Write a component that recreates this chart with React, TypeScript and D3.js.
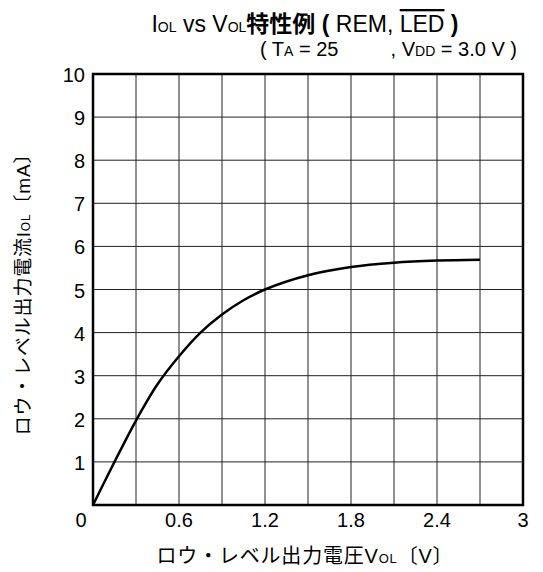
import { line, curveCatmullRom, scaleLinear, range } from "d3";

const xTicks = [0, 0.6, 1.2, 1.8, 2.4, 3];
const yTicks = [1, 2, 3, 4, 5, 6, 7, 8, 9, 10];
const vol = [0, 0.15, 0.3, 0.45, 0.6, 0.75, 0.9, 1.05, 1.2, 1.5, 1.8, 2.1, 2.4, 2.7];
const iol = [0, 1, 1.96, 2.8, 3.45, 4.0, 4.42, 4.75, 5.0, 5.33, 5.52, 5.62, 5.67, 5.69];

const W = 543;
const H = 572;
const left = 93;
const right = 523;
const top = 74;
const bottom = 505;
const font = "'Liberation Sans', Arial, sans-serif";
const jp = "'Noto Sans CJK JP', sans-serif";

export default function App() {
  const x = scaleLinear().domain([0, 3]).range([left, right]);
  const y = scaleLinear().domain([0, 10]).range([bottom, top]);
  const pts = vol.map((v, i) => [v, iol[i]] as [number, number]);
  const path = line<[number, number]>()
    .x((d) => x(d[0]))
    .y((d) => y(d[1]))
    .curve(curveCatmullRom)(pts);

  return (
    <svg width={W} height={H} style={{ position: "absolute", left: 0, top: 0 }}>
      <rect width={W} height={H} fill="#fff" />
      {/* grid */}
      {range(1, 10).map((i) => (
        <line key={"v" + i} x1={x(i * 0.3)} x2={x(i * 0.3)} y1={top} y2={bottom} stroke="#222" strokeWidth={1} />
      ))}
      {yTicks.slice(0, -1).map((t) => (
        <line key={"h" + t} x1={left} x2={right} y1={y(t)} y2={y(t)} stroke="#222" strokeWidth={1} />
      ))}
      <rect x={left} y={top} width={right - left} height={bottom - top} fill="none" stroke="#000" strokeWidth={2.5} />
      <path d={path ?? ""} fill="none" stroke="#000" strokeWidth={2.5} />

      {/* tick labels */}
      {yTicks.map((t) => (
        <text key={"yl" + t} x={85} y={y(t) + 8} textAnchor="end" fontFamily={font} fontSize={20}>
          {t}
        </text>
      ))}
      {xTicks.map((t) => (
        <text
          key={"xl" + t}
          x={t === 0 ? x(t) - 12 : x(t)}
          y={bottom + 22}
          textAnchor="middle"
          fontFamily={font}
          fontSize={20}
        >
          {t}
        </text>
      ))}

      {/* title */}
      <text x={305} y={32} textAnchor="middle" fontFamily={font} fontSize={23}>
        <tspan>I</tspan>
        <tspan fontSize={14}>OL</tspan>
        <tspan> vs V</tspan>
        <tspan fontSize={14}>OL</tspan>
        <tspan fontFamily={jp} fontWeight="bold">特性例</tspan>
        <tspan fontWeight="bold">{" ( "}</tspan>
        <tspan>REM, </tspan>
        <tspan textDecoration="overline">LED</tspan>
        <tspan fontWeight="bold">{" )"}</tspan>
      </text>
      <text x={260} y={56} fontFamily={font} fontSize={20}>
        <tspan>( T</tspan>
        <tspan fontSize={14}>A</tspan>
        <tspan>{" = 25"}</tspan>
      </text>
      <text x={517} y={56} textAnchor="end" fontFamily={font} fontSize={20}>
        <tspan>, V</tspan>
        <tspan fontSize={14}>DD</tspan>
        <tspan>{" = 3.0 V )"}</tspan>
      </text>

      {/* axis titles */}
      <text x={305} y={563} textAnchor="middle" fontFamily={jp} fontSize={20} letterSpacing={0.8}>
        <tspan>ロウ・レベル出力電圧</tspan>
        <tspan fontFamily={font}>V</tspan>
        <tspan fontFamily={font} fontSize={13}>OL</tspan>
        <tspan>〔</tspan>
        <tspan fontFamily={font}>V</tspan>
        <tspan>〕</tspan>
      </text>
      <text
        transform={`translate(30, ${(top + bottom) / 2}) rotate(-90)`}
        textAnchor="middle"
        fontFamily={jp}
        fontSize={19}
        letterSpacing={0.8}
      >
        <tspan>ロウ・レベル出力電流</tspan>
        <tspan fontFamily={font}>I</tspan>
        <tspan fontFamily={font} fontSize={12}>OL</tspan>
        <tspan>〔</tspan>
        <tspan fontFamily={font}>mA</tspan>
        <tspan>〕</tspan>
      </text>
    </svg>
  );
}
